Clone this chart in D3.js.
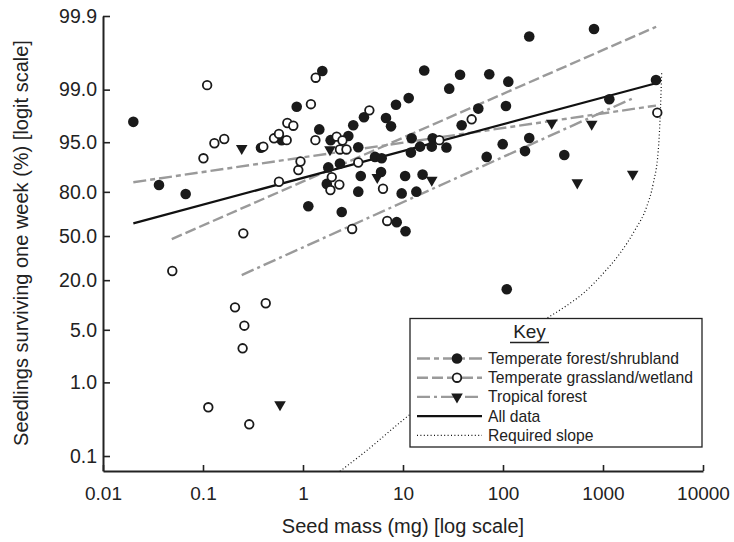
<!DOCTYPE html>
<html>
<head>
<meta charset="utf-8">
<script src="https://cdn.jsdelivr.net/npm/d3@7"></script>
<style>
    body { margin: 0; background: #fff; }
    svg text { font-family: "Liberation Sans", Arial, Helvetica, sans-serif; fill: #222; }
</style>
</head>
<body>
<svg class="chart"></svg>
<script>

// seed mass (mg), survival after one week (%)
var forest = [
    [0.0201, 97.3], [0.0363, 83.2], [0.0671, 78.9], [0.380, 94.1], [0.612, 95.3], [0.865, 98.3],
    [1.56, 99.44], [1.455, 96.6], [1.89, 95.3], [2.84, 95.85], [3.18, 97.0], [4.07, 97.65],
    [6.76, 97.6], [7.59, 96.9], [8.51, 98.4], [11.4, 98.7], [16.3, 99.45], [29.0, 99.03],
    [37.2, 99.37], [38.6, 97.0], [3.57, 94.2], [2.34, 90.7], [1.79, 89.6], [1.73, 83.7],
    [3.78, 86.8], [3.57, 80.1], [5.25, 92.3], [6.12, 92.0], [6.03, 88.2], [10.5, 86.8],
    [15.7, 87.3], [9.7, 79.2], [13.6, 80.1], [1.13, 71.8], [2.44, 68.0], [8.65, 60.7],
    [10.6, 53.7], [12.2, 95.55], [14.8, 94.3], [19.8, 95.55], [19.4, 94.3], [27.2, 94.15],
    [12.0, 93.2], [56.6, 98.2], [72.9, 99.38], [113, 99.22], [107, 98.34], [68.7, 92.3],
    [99.3, 94.7], [183, 95.6], [166, 93.5], [410, 92.7], [183, 99.81], [813, 99.85],
    [1157, 98.65], [3388, 99.26], [109, 15.8]
];

var grassland = [
    [0.110, 99.13], [0.101, 91.98], [0.130, 94.84], [0.163, 95.46], [0.401, 94.3], [0.253, 52.1],
    [0.575, 84.6], [0.513, 95.55], [0.575, 96.1], [0.687, 95.3], [0.697, 97.2], [0.800, 96.96],
    [0.898, 88.8], [0.944, 91.2], [1.34, 99.31], [1.20, 98.43], [1.33, 95.3], [2.17, 95.77],
    [2.48, 95.25], [2.34, 93.8], [2.72, 93.8], [3.57, 90.95], [1.94, 86.4], [1.88, 80.9],
    [2.31, 83.4], [4.61, 98.1], [6.31, 81.5], [3.10, 55.5], [6.95, 61.6], [23.1, 95.3],
    [48.6, 97.5], [3491, 97.96], [0.0493, 25.0], [0.209, 9.63], [0.424, 10.8], [0.259, 5.65],
    [0.249, 2.86], [0.113, 0.46], [0.290, 0.27]
];

var tropical = [
    [0.244, 94.0], [0.589, 0.50], [1.86, 93.8], [5.53, 86.3], [19.4, 85.3],
    [307, 97.2], [771, 97.1], [553, 84.2], [1982, 87.5]
];

// fitted lines, end points
var forestFit = [[0.0201, 84.4], [3388, 98.36]];
var grassFit = [[0.0487, 47.6], [3400, 99.86]];
var tropFit = [[0.244, 22.7], [2089, 98.73]];
var allFit = [[0.0201, 59.8], [3388, 99.18]];
var requiredSlope = [
    [2.34, 0.062], [4.01, 0.109], [10.0, 0.309], [273.5, 7.02], [417, 9.8], [635, 14.2],
    [1007, 23.7], [1479, 36.7], [2089, 54.7], [2735, 71.5], [3184, 84.0], [3573, 93.7],
    [3715, 97.4], [3864, 99.43]
];

var xTicks = [0.01, 0.1, 1, 10, 100, 1000, 10000];
var yTicks = [0.1, 1, 5, 20, 50, 80, 95, 99, 99.9];
var legendNames = ["Temperate forest/shrubland", "Temperate grassland/wetland", "Tropical forest", "All data", "Required slope"];

function show() {

    'use strict';

    var width = 734, height = 542;

    var svg = d3.select(".chart")
        .attr("width", width)
        .attr("height", height);

    function logit(pct) { var p = pct / 100; return Math.log(p / (1 - p)); }

    var x = d3.scaleLog().domain([0.01, 10000]).range([103, 703]);
    var yL = d3.scaleLinear().domain([logit(0.0625), logit(99.9)]).range([471, 16]);
    var y = function(pct) { return yL(logit(pct)); };

    var styles = {
        forest: {stroke: "#9a9a9a", width: 2.4, dash: "13,4,5,4"},
        grass:  {stroke: "#9a9a9a", width: 2.4, dash: "11,4"},
        trop:   {stroke: "#9a9a9a", width: 2.4, dash: "13,4,3,4"},
        all:    {stroke: "#111", width: 2.2, dash: null},
        req:    {stroke: "#111", width: 1.2, dash: "1,2.4"}
    };

    var line = d3.line()
        .x(function(d) { return x(d[0]); })
        .y(function(d) { return y(d[1]); });

    // axes
    var xAxis = svg.append("g")
        .attr("transform", "translate(0,471)")
        .call(d3.axisBottom(x)
            .tickValues(xTicks)
            .tickFormat(function(d) { return String(d); })
            .tickSizeInner(-6).tickSizeOuter(0).tickPadding(16));

    var yAxis = svg.append("g")
        .attr("transform", "translate(103,0)")
        .call(d3.axisLeft(yL)
            .tickValues(yTicks.map(logit))
            .tickFormat(function(d, i) { return d3.format(".1f")(yTicks[i]); })
            .tickSizeInner(-7).tickSizeOuter(0).tickPadding(6));

    [xAxis, yAxis].forEach(function(g) {
        g.attr("color", "#222").attr("font-family", null);
        g.select(".domain").attr("stroke-width", 2);
        g.selectAll(".tick line").attr("stroke-width", 1.6);
    });
    xAxis.attr("font-size", 19);
    yAxis.attr("font-size", 19.5);
    xAxis.select(".tick:last-of-type").raise();

    svg.append("text")
        .attr("x", 403).attr("y", 533)
        .attr("text-anchor", "middle")
        .style("font-size", "20px")
        .text("Seed mass (mg) [log scale]");

    svg.append("text")
        .attr("transform", "translate(28,243) rotate(-90)")
        .attr("text-anchor", "middle")
        .style("font-size", "20px")
        .text("Seedlings surviving one week (%) [logit scale]");

    // required slope goes under the key box
    function styled(sel, s) {
        return sel.attr("fill", "none")
            .attr("stroke", s.stroke)
            .attr("stroke-width", s.width)
            .attr("stroke-dasharray", s.dash);
    }

    styled(svg.append("path"), styles.req)
        .attr("d", line.curve(d3.curveMonotoneX)(requiredSlope));
    line.curve(d3.curveLinear);

    styled(svg.append("path"), styles.forest).attr("d", line(forestFit));
    styled(svg.append("path"), styles.grass).attr("d", line(grassFit));
    styled(svg.append("path"), styles.trop).attr("d", line(tropFit));
    styled(svg.append("path"), styles.all).attr("d", line(allFit));

    // points
    svg.append("g").selectAll("circle")
        .data(forest).enter().append("circle")
        .attr("cx", function(d) { return x(d[0]); })
        .attr("cy", function(d) { return y(d[1]); })
        .attr("r", 5.3)
        .attr("fill", "#1a1a1a");

    svg.append("g").selectAll("circle")
        .data(grassland).enter().append("circle")
        .attr("cx", function(d) { return x(d[0]); })
        .attr("cy", function(d) { return y(d[1]); })
        .attr("r", 4.3)
        .attr("fill", "#fff")
        .attr("stroke", "#1a1a1a")
        .attr("stroke-width", 1.8);

    var tri = d3.symbol(d3.symbolTriangle, 58);
    svg.append("g").selectAll("path")
        .data(tropical).enter().append("path")
        .attr("d", tri)
        .attr("transform", function(d) { return "translate(" + x(d[0]) + "," + y(d[1]) + ") rotate(180)"; })
        .attr("fill", "#1a1a1a");

    // key
    var key = svg.append("g");
    key.append("rect")
        .attr("x", 410).attr("y", 318.5)
        .attr("width", 292).attr("height", 128.5)
        .attr("fill", "#fff")
        .attr("stroke", "#222")
        .attr("stroke-width", 1.3);

    key.append("text")
        .attr("x", 529.5).attr("y", 337.5)
        .attr("text-anchor", "middle")
        .style("font-size", "19px")
        .text("Key");
    key.append("line")
        .attr("x1", 510).attr("x2", 549)
        .attr("y1", 342.5).attr("y2", 342.5)
        .attr("stroke", "#222").attr("stroke-width", 1.5);

    var keyStyles = [styles.forest, styles.grass, styles.trop, styles.all, styles.req];
    legendNames.forEach(function(name, i) {
        var cy = 358.5 + i * 19.2;
        styled(key.append("line"), keyStyles[i])
            .attr("x1", 417).attr("x2", 482)
            .attr("y1", cy).attr("y2", cy);
        if (i === 0) {
            key.append("circle").attr("cx", 457).attr("cy", cy).attr("r", 5.3).attr("fill", "#1a1a1a");
        } else if (i === 1) {
            key.append("circle").attr("cx", 457).attr("cy", cy).attr("r", 4.3)
                .attr("fill", "#fff").attr("stroke", "#1a1a1a").attr("stroke-width", 1.8);
        } else if (i === 2) {
            key.append("path").attr("d", tri)
                .attr("transform", "translate(457," + cy + ") rotate(180)")
                .attr("fill", "#1a1a1a");
        }
        key.append("text")
            .attr("x", 488).attr("y", cy + 5.5)
            .style("font-size", "15.7px")
            .text(name);
    });
}

show();
</script>
</body>
</html>
